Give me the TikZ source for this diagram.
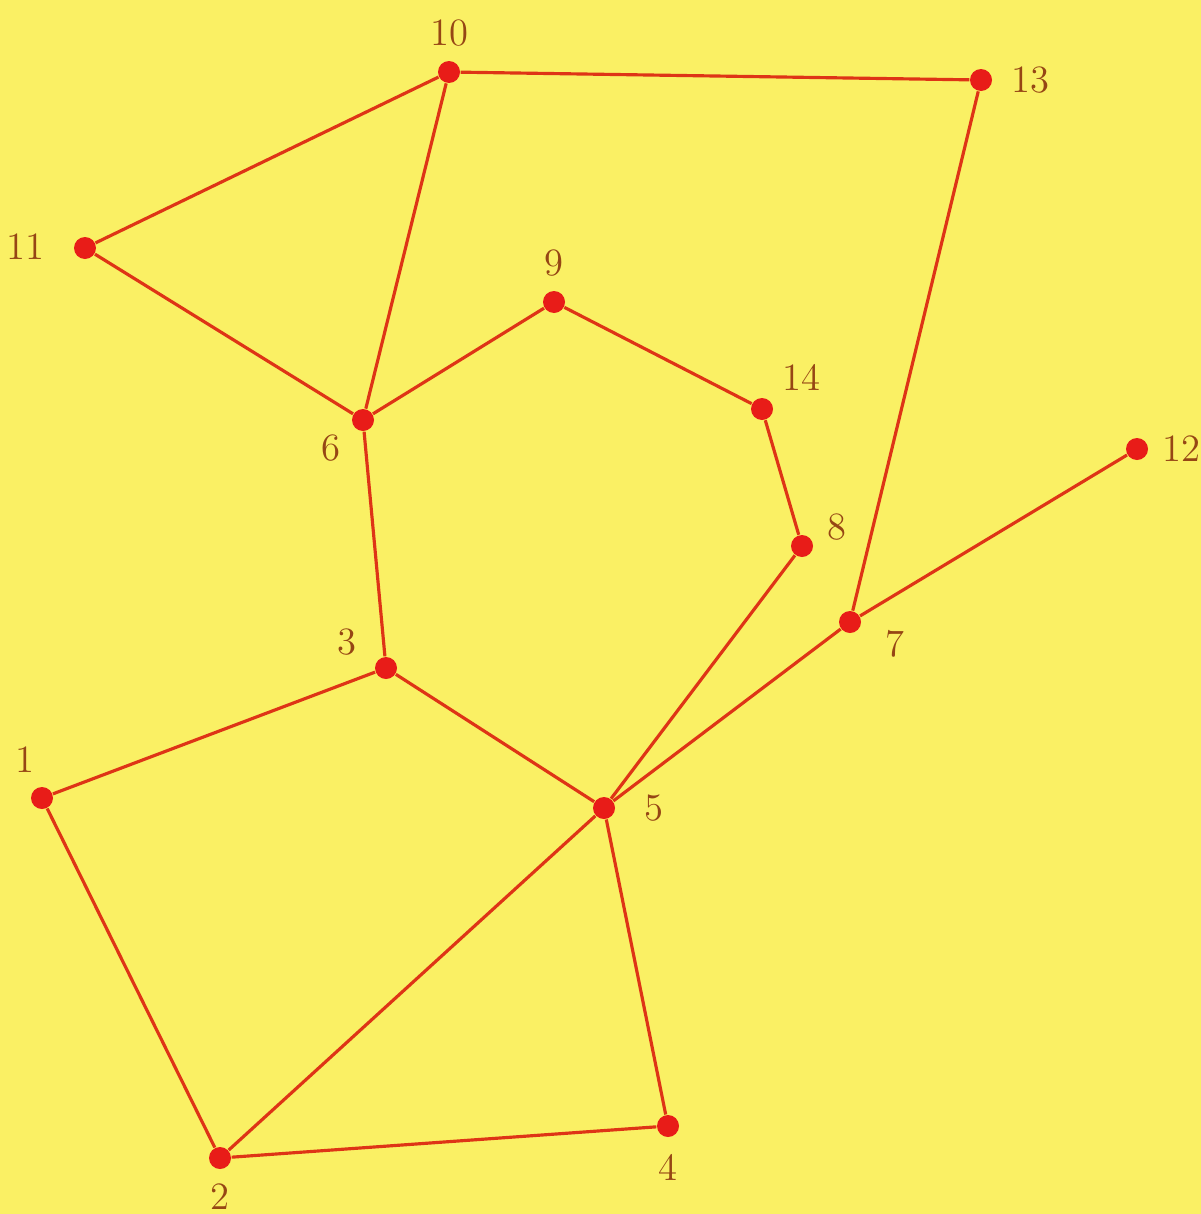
\documentclass[tikz,border=0pt]{standalone}
\usepackage{tikz}
\usepackage{xcolor}
\definecolor{paper}{RGB}{250,240,100}
\definecolor{dotred}{RGB}{232,28,24}
\definecolor{edgered}{RGB}{222,52,22}
\definecolor{numbrown}{RGB}{150,70,20}
\tikzset{
  vtx/.style={circle,fill=dotred,inner sep=0pt,minimum size=2.2mm},
  lbl/.style={text=numbrown,font=\fontsize{11}{13}\selectfont,inner sep=1pt},
  every label/.style={lbl},
  link/.style={edgered,line width=0.9pt}
}

\begin{document}
\begin{tikzpicture}[x=0.1mm,y=-0.1mm,label distance=1mm]
      \fill[paper] (0,0) rectangle (1201,1214);
      \useasboundingbox (0,0) rectangle (1201,1214);
      % vertices
      \node[vtx,label={100:1}] (n1) at (42,798) {};
      \node[vtx,label={below:2}] (n2) at (220,1158) {};
      \node[vtx,label={[label distance=1.5mm]162:3}] (n3) at (386,668) {};
      \node[vtx,label={[label distance=1.2mm]below:4}] (n4) at (668,1126) {};
      \node[vtx,label={[label distance=2.5mm]right:5}] (n5) at (604,808) {};
      \node[vtx,label={-150:6}] (n6) at (363,420) {};
      \node[vtx,label={[label distance=2mm]-8:7}] (n7) at (850,622) {};
      \node[vtx,label={5:8}] (n8) at (802,546) {};
      \node[vtx,label={above:9}] (n9) at (554,302) {};
      \node[vtx,label={above:10}] (n10) at (449,72) {};
      \node[vtx,label={[label distance=2.5mm]178:11}] (n11) at (85,248) {};
      \node[vtx,label={right:12}] (n12) at (1137,449) {};
      \node[vtx,label={[label distance=1.5mm]right:13}] (n13) at (981,80) {};
      \node[vtx,label={40:14}] (n14) at (762,409) {};
      % edges
      \foreach \a/\b in {10/13,10/11,10/6,11/6,6/9,9/14,14/8,8/5,6/3,3/1,3/5,1/2,2/5,2/4,4/5,5/7,7/12,7/13}
        \draw[link] (n\a) -- (n\b);
    \end{tikzpicture}
\end{document}
